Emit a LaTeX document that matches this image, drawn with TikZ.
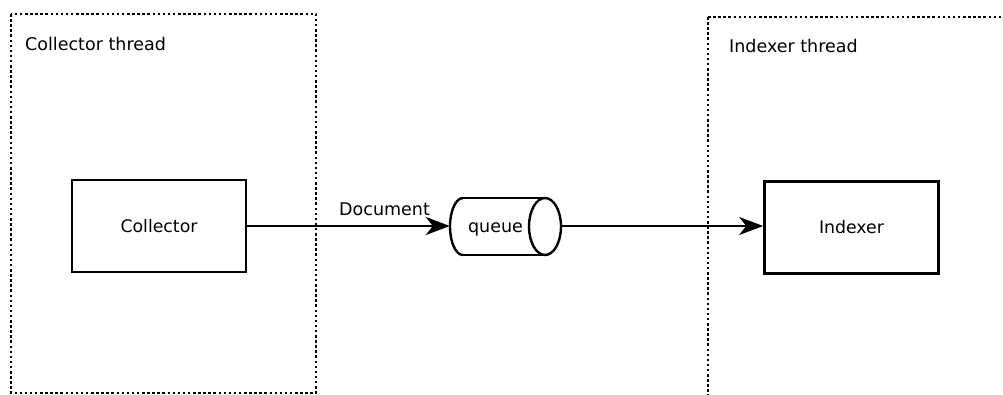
\documentclass[tikz,border=0pt]{standalone}
\usepackage{fontspec}
\setmainfont{DejaVu Sans}
\usetikzlibrary{arrows.meta}
\begin{document}
\begin{tikzpicture}[x=1pt,y=-1pt,
  thread/.style={draw=black,line width=2.5pt,dash pattern=on 2.5pt off 2.6pt},
  procbox/.style={draw=black,line width=2.6pt,minimum width=174pt,minimum height=92pt,inner sep=0pt,font=\fontsize{17.3}{20}\selectfont},
  lbl/.style={font=\fontsize{17.5}{20}\selectfont,inner sep=0pt},
  shapeln/.style={line width=2.4pt},
  flow/.style={line width=2.4pt,-{Stealth[length=24pt,width=18pt,inset=7pt]}}]
\useasboundingbox (0,0) rectangle (1003,394);
\begin{scope}
\clip (0,0) rectangle (1003,394);
\draw[thread] (11,14) rectangle (316,393);
\draw[thread] (708,17) -- (1010,17);
\draw[thread] (708,17) -- (708,400);
\end{scope}
\node[lbl,anchor=west] (ct) at (25,44) {Collector thread};
\node[lbl,anchor=west] (it) at (729,46) {Indexer thread};
\node[procbox] (col) at (159,226) {Collector};
\node[procbox] (idx) at (851.5,227.5) {Indexer};
% queue shape
\draw[shapeln] (463,198) -- (545,198) (463,255) -- (545,255);
\draw[shapeln] (463,198) arc[start angle=270,end angle=90,x radius=13,y radius=28.5];
\draw[shapeln] (545,226.5) ellipse[x radius=16,y radius=28.5];
\node[lbl,minimum width=111pt,minimum height=57pt] (q) at (505.5,226.5) {};
\node[lbl] (qt) at (495.5,229) {queue};
\draw[flow] (col.east |- 0,226) -- (q.west |- 0,226) node[lbl,midway,above=9pt,xshift=36pt] (doc) {Document};
\draw[flow] (q.east |- 0,226) -- (idx.west |- 0,226);
\end{tikzpicture}
\end{document}
